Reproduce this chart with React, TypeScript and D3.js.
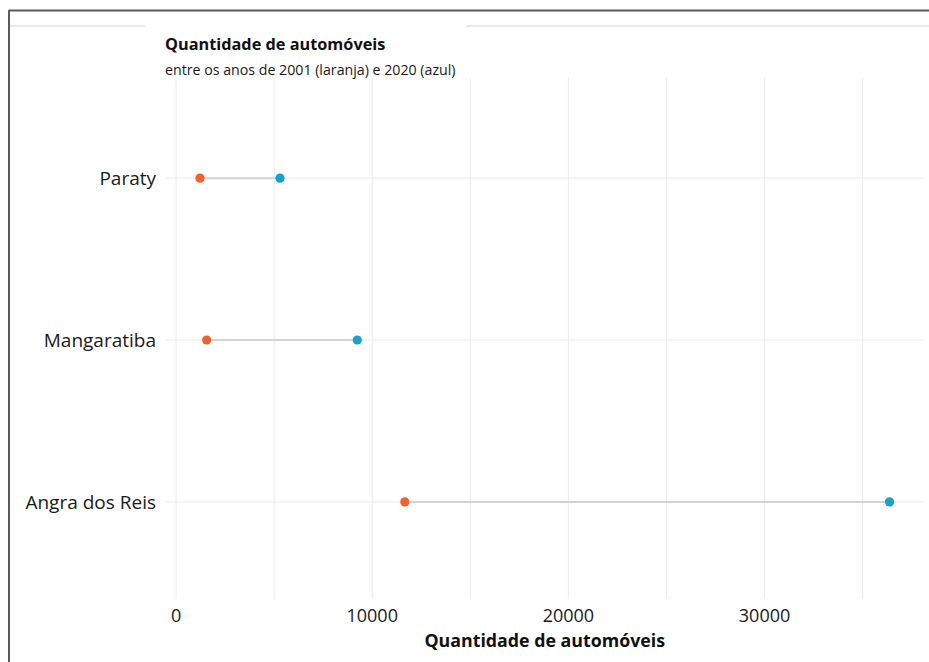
import React from "react";
import * as d3 from "d3";

const cities = ["Angra dos Reis", "Mangaratiba", "Paraty"];
const cars2001 = [11660, 1560, 1220];
const cars2020 = [36370, 9240, 5300];
const gridTicks = [0, 5000, 10000, 15000, 20000, 25000, 30000, 35000];
const labelTicks = [0, 10000, 20000, 30000];

const W = 929;
const H = 662;
const FONT = "'Open Sans', 'Noto Sans', sans-serif";

export default function App() {
  const panel = { left: 165.5, right: 924, top: 81, bottom: 599 };
  const minV = d3.min(cars2001)!;
  const maxV = d3.max(cars2020)!;
  const pad = (maxV - minV) * 0.05;
  const x = d3.scaleLinear().domain([minV - pad, maxV + pad]).range([panel.left, panel.right]);
  const y = d3
    .scalePoint<string>()
    .domain(cities)
    .range([panel.bottom, panel.top])
    .padding(0.6);

  return (
    <svg width={W} height={H} style={{ position: "absolute", left: 0, top: 0, background: "#fff" }}>
      <rect x={0} y={0} width={W} height={H} fill="#fff" />
      {/* frame */}
      <line x1={9} y1={10.5} x2={W} y2={10.5} stroke="#5a5a5a" strokeWidth={2} />
      <line x1={9} y1={10} x2={9} y2={H} stroke="#5a5a5a" strokeWidth={2} />
      <line x1={10} y1={26} x2={145} y2={26} stroke="#d4d4d4" strokeWidth={1} />
      <line x1={466} y1={26} x2={W} y2={26} stroke="#d4d4d4" strokeWidth={1} />

      {/* grid */}
      {gridTicks.map((t) => (
        <line key={"g" + t} x1={x(t)} x2={x(t)} y1={panel.top - 3} y2={panel.bottom} stroke="#ebebeb" strokeWidth={1} />
      ))}
      {cities.map((c) => (
        <line key={"h" + c} x1={panel.left} x2={panel.right} y1={y(c)} y2={y(c)} stroke="#ebebeb" strokeWidth={1} />
      ))}

      {/* segments and dots */}
      {cities.map((c, i) => (
        <g key={c}>
          <line x1={x(cars2001[i])} x2={x(cars2020[i])} y1={y(c)} y2={y(c)} stroke="#d3d3d3" strokeWidth={2} />
          <circle cx={x(cars2001[i])} cy={y(c)} r={4.6} fill="#f4602a" />
          <circle cx={x(cars2020[i])} cy={y(c)} r={4.6} fill="#13a3cc" />
        </g>
      ))}

      {/* y labels */}
      {cities.map((c) => (
        <text key={"l" + c} x={156} y={y(c)!} dy="0.35em" textAnchor="end" fontFamily={FONT} fontSize={19} fill="#1a1a1a">
          {c}
        </text>
      ))}

      {/* x labels */}
      {labelTicks.map((t) => (
        <text key={"x" + t} x={x(t)} y={622} textAnchor="middle" fontFamily={FONT} fontSize={18} fill="#1a1a1a">
          {t}
        </text>
      ))}
      <text x={(panel.left + panel.right) / 2} y={647} textAnchor="middle" fontFamily={FONT} fontSize={17.8} fontWeight="bold" fill="#111">
        Quantidade de automóveis
      </text>

      {/* title */}
      <text x={165} y={50} fontFamily={FONT} fontSize={16.3} fontWeight="bold" fill="#111">
        Quantidade de automóveis
      </text>
      <text x={165} y={75} fontFamily={FONT} fontSize={14.2} fill="#1a1a1a">
        entre os anos de 2001 (laranja) e 2020 (azul)
      </text>
    </svg>
  );
}
